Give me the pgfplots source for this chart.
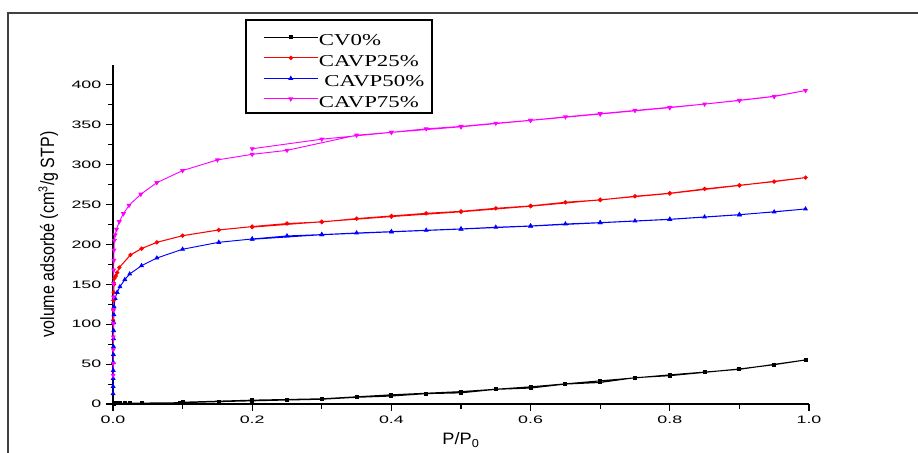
\documentclass[border=0pt]{standalone}
\usepackage{fontspec}
\setmainfont{Liberation Sans}
\newfontfamily\legfont{Liberation Serif}
\usepackage{graphicx}
\usepackage{pgfplots}
\pgfplotsset{compat=1.18}
\definecolor{magentaC}{RGB}{255,0,255}
\begin{document}
\begin{tikzpicture}
\useasboundingbox (-84.75pt,-36.75pt) rectangle (603.75pt,303pt);
\draw[line width=1.5pt, black!75] (-78.4pt,-40pt) -- (-78.4pt,293.6pt) -- (610pt,293.6pt);
\draw[line width=0.8pt, black] (99.75pt,218.25pt) rectangle (239.25pt,288pt);
\begin{axis}[
  at={(0,0)}, anchor=south west,
  scale only axis,
  width=522pt, height=254.25pt,
  xmin=0, xmax=1, ymin=0, ymax=425,
  axis lines=left,
  axis line style={-, line width=1pt},
  clip=false,
  xtick={0,0.2,...,1.0},
  ytick={0,50,...,400},
  minor x tick num=1,
  minor y tick num=1,
  tick align=outside,
  major tick length=5.25pt,
  minor tick length=3.4pt,
  tick style={black, line width=0.8pt},
  /pgf/number format/assume math mode=true,
  xticklabel={\scalebox{1.65}[1]{\pgfmathprintnumber[fixed,precision=1,fixed zerofill]{\tick}}},
  yticklabel={\scalebox{1.65}[1]{\pgfmathprintnumber[fixed,precision=0]{\tick}}},
  tick label style={font=\fontsize{8.1pt}{9pt}\selectfont},
  xlabel={\scalebox{1.1}[1]{P/P\textsubscript{0}}},
  xlabel style={font=\fontsize{12.4pt}{14pt}\selectfont, at={(axis description cs:0.5,-0.120)}, anchor=base},
  ylabel={\scalebox{1}[1.2]{volume adsorbé (cm\textsuperscript{3}/g STP)}},
  ylabel style={font=\fontsize{12pt}{14pt}\selectfont, at={(axis description cs:-0.093,0.5)}, anchor=center},
  legend style={draw=none, fill=none, at={(axis description cs:0.2155,1.0989)}, anchor=north west,
    inner sep=0pt, row sep=0pt, column sep=0.5pt,
    font=\legfont\fontsize{12.5pt}{14pt}\selectfont,
    nodes={inner sep=0pt, text height=10.4pt, text depth=5pt}},
  legend cell align=left,
  legend image code/.code={\draw[mark repeat=2,mark phase=2] plot coordinates {(0pt,3.5pt) (20.25pt,3.5pt) (40.5pt,3.5pt)};},
]
\addplot[black, line width=0.8pt, mark=square*, mark size=1.1pt] coordinates {
(0.001,0.5) (0.005,0.7) (0.010,0.8) (0.017,0.9) (0.024,1.0) (0.041,1.1) (0.096,1.6)
(0.152,3.0) (0.200,4.0) (0.250,5.0) (0.300,6.0) (0.350,8.4) (0.400,10.0) (0.450,13.0)
(0.500,14.0) (0.550,18.4) (0.600,20.0) (0.650,25.0) (0.700,27.0) (0.750,33.0) (0.800,35.5)
(0.850,39.7) (0.900,43.9) (0.950,49.3) (0.995,55.2)
(0.900,43.5) (0.800,36.5) (0.700,29.0) (0.600,21.5) (0.500,15.5) (0.400,11.5) (0.300,6.5)
(0.200,4.8) (0.100,2.2)
};
\addlegendentry{\scalebox{1.37}[1]{CV0\%}}
\addplot[red, line width=0.8pt, mark=*, mark size=1.2pt] coordinates {
(0.0002,105) (0.0004,118) (0.0006,130) (0.0010,140) (0.0015,150) (0.002,157.6) (0.004,160.5)
(0.006,164.7) (0.009,171) (0.025,186.8) (0.041,194.8) (0.063,202.7) (0.100,211) (0.152,218.2)
(0.200,222.4) (0.250,226.2) (0.300,228.2) (0.350,232.4) (0.400,235.7) (0.450,239) (0.500,241.5)
(0.550,245.3) (0.600,248.3) (0.650,252.9) (0.700,255.8) (0.750,260.4) (0.800,264.2) (0.850,269.6)
(0.900,274.2) (0.950,278.8) (0.995,283.8)
(0.900,274) (0.800,264) (0.700,256) (0.600,248) (0.500,241) (0.400,235) (0.300,228.5) (0.200,221.8)
};
\addlegendentry{\scalebox{1.37}[1]{CAVP25\%}}
\addplot[blue, line width=0.7pt, mark=triangle*, mark size=1.5pt] coordinates {
(0.0001,13) (0.0002,22) (0.0003,32) (0.0004,42) (0.0005,52) (0.0006,62) (0.0007,72)
(0.0008,82) (0.0009,92) (0.0010,102) (0.0012,112) (0.0015,122) (0.003,132.5) (0.006,140)
(0.010,147) (0.017,156) (0.024,163) (0.041,173.4) (0.063,183) (0.100,194) (0.152,202.7)
(0.200,206.9) (0.250,210.7) (0.300,212.4) (0.350,214.4) (0.400,216.1) (0.450,217.8) (0.500,219.5)
(0.550,221.6) (0.600,223.2) (0.650,225.7) (0.700,227.4) (0.750,229.5) (0.800,231.6) (0.850,234.5)
(0.900,237.4) (0.950,240.8) (0.995,244.5)
(0.900,237.2) (0.800,231.4) (0.700,227.2) (0.600,223) (0.500,219.3) (0.400,215.8) (0.300,212.2) (0.200,206.5)
};
\addlegendentry{\scalebox{1.37}[1]{\hspace{3pt}CAVP50\%}}
\addplot[magentaC, line width=0.7pt, mark=triangle*, mark size=1.5pt, mark options={rotate=180}] coordinates {
(0.0002,36) (0.0003,51) (0.0004,68) (0.0005,84) (0.0006,101) (0.0007,118) (0.0008,134)
(0.0009,151) (0.0010,168) (0.0012,180) (0.0014,193) (0.0020,205) (0.0030,212) (0.005,219)
(0.009,228.6) (0.015,238.6) (0.023,249) (0.040,263) (0.063,277.5) (0.100,292.6) (0.150,306)
(0.200,313) (0.250,318) (0.350,337) (0.400,340.6) (0.450,345) (0.500,348) (0.550,352)
(0.600,355.7) (0.650,360) (0.700,364) (0.750,368) (0.800,372) (0.850,376) (0.900,380.8)
(0.950,385.8) (0.995,393)
(0.950,385.5) (0.900,380.5) (0.800,371.5) (0.700,363.5) (0.600,355.5) (0.500,347.5)
(0.400,340.5) (0.300,332) (0.200,320)
};
\addlegendentry{\scalebox{1.37}[1]{CAVP75\%}}
\end{axis}
\end{tikzpicture}
\end{document}
